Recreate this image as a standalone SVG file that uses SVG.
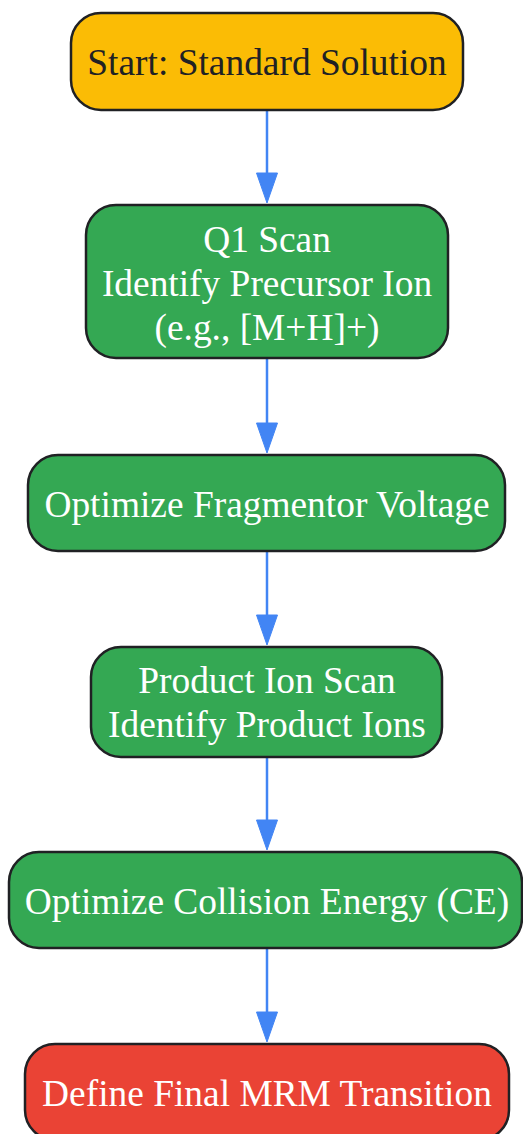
<svg xmlns="http://www.w3.org/2000/svg" width="523" height="1134" viewBox="0 0 523 1134">
<defs>
<style>
.node rect{stroke:#202124;stroke-width:2.5}
.node text{font-family:"Liberation Serif","Times New Roman",serif;font-size:37.4px;text-anchor:middle}
.y rect{fill:#FBBC05}.y text{fill:#202124}
.g rect{fill:#34A853}.g text{fill:#FFFFFF}
.r rect{fill:#EA4335}.r text{fill:#FFFFFF}
#edges line{stroke:#4285F4;stroke-width:2.5}
#edges polygon{fill:#4285F4;stroke:#4285F4;stroke-width:1}
</style>
</defs>
<rect width="523" height="1134" fill="#FFFFFF"/>
<g id="edges">
<line x1="267" y1="110" x2="267" y2="174"/><polygon points="256.5,173 277.5,173 267,203"/>
<line x1="267" y1="358" x2="267" y2="424"/><polygon points="256.5,423 277.5,423 267,453"/>
<line x1="267" y1="551" x2="267" y2="616"/><polygon points="256.5,615 277.5,615 267,645"/>
<line x1="267" y1="757" x2="267" y2="821"/><polygon points="256.5,820 277.5,820 267,850"/>
<line x1="267" y1="948" x2="267" y2="1013"/><polygon points="256.5,1012 277.5,1012 267,1042"/>
</g>
<g id="n1" class="node y"><rect x="71" y="13" width="392" height="97" rx="30"/><text x="267" y="75">Start: Standard Solution</text></g>
<g id="n2" class="node g"><rect x="86" y="205" width="362" height="153" rx="30"/><text x="267" y="252">Q1 Scan</text><text x="267" y="296">Identify Precursor Ion</text><text x="267" y="340">(e.g., [M+H]+)</text></g>
<g id="n3" class="node g"><rect x="28" y="455" width="477" height="96" rx="30"/><text x="267" y="517">Optimize Fragmentor Voltage</text></g>
<g id="n4" class="node g"><rect x="91" y="647" width="351" height="110" rx="30"/><text x="267" y="693">Product Ion Scan</text><text x="267" y="737">Identify Product Ions</text></g>
<g id="n5" class="node g"><rect x="9" y="852" width="513" height="96" rx="30"/><text x="267" y="914">Optimize Collision Energy (CE)</text></g>
<g id="n6" class="node r"><rect x="25" y="1044" width="484" height="96" rx="30"/><text x="267" y="1106">Define Final MRM Transition</text></g>
</svg>
